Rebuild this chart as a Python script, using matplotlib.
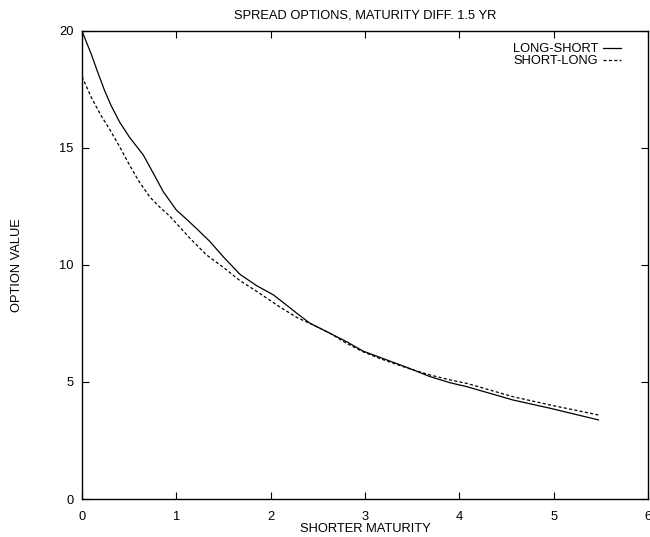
import matplotlib
matplotlib.use("Agg")
import matplotlib.pyplot as plt

plt.rcParams['font.family'] = ['Liberation Sans', 'DejaVu Sans']

# LONG-SHORT (solid)
ls_x = [0.0, 0.099, 0.17, 0.24, 0.31, 0.40, 0.505, 0.544, 0.65, 0.756, 0.862, 1.0,
        1.11, 1.216, 1.357, 1.498, 1.675, 1.85, 2.03, 2.10, 2.205, 2.276, 2.417,
        2.63, 2.806, 2.98, 3.16, 3.46, 3.69, 3.90, 4.08, 4.57, 4.96, 5.475]
ls_y = [20.0, 19.0, 18.2, 17.45, 16.8, 16.1, 15.45, 15.25, 14.7, 13.92, 13.13, 12.35,
        11.95, 11.55, 11.0, 10.35, 9.6, 9.12, 8.72, 8.5, 8.17, 7.94, 7.51,
        7.08, 6.72, 6.32, 6.05, 5.6, 5.23, 4.97, 4.80, 4.23, 3.88, 3.38]

# SHORT-LONG (dashed)
sl_x = [0.0, 0.1, 0.2, 0.3, 0.4, 0.5, 0.6, 0.72, 0.83, 0.933, 1.057,
        1.145, 1.32, 1.498, 1.675, 1.85, 2.0, 2.08, 2.276, 2.45, 2.63, 2.806, 2.98, 3.16,
        3.46, 3.69, 3.90, 4.08, 4.57, 4.96, 5.475]
sl_y = [18.05, 17.15, 16.4, 15.75, 15.05, 14.3, 13.6, 12.9, 12.45, 12.08, 11.53,
        11.14, 10.43, 9.9, 9.33, 8.88, 8.47, 8.25, 7.76, 7.44, 7.08, 6.65, 6.29, 6.0,
        5.58, 5.30, 5.09, 4.94, 4.37, 4.02, 3.59]

x_ticks = [0, 1, 2, 3, 4, 5, 6]
y_ticks = [0, 5, 10, 15, 20]

fig = plt.figure(figsize=(6.5, 5.37), dpi=100)
ax = fig.add_axes([82/650, 1-499/537, (648-82)/650, (499-31)/537])

ax.plot(ls_x, ls_y, color='black', lw=0.9, label='LONG-SHORT')
ax.plot(sl_x, sl_y, color='black', lw=0.9, dashes=(2.5, 1.8), label='SHORT-LONG')

ax.set_xlim(0, 6)
ax.set_ylim(0, 20)
ax.set_xticks(x_ticks)
ax.set_yticks(y_ticks)
ax.tick_params(direction='in', length=5, width=0.8, top=True, right=True,
               labelsize=9.3)
ax.tick_params(axis='x', pad=8.5)
ax.tick_params(axis='y', pad=6)
for s in ax.spines.values():
    s.set_linewidth(1.0)

ax.set_title('SPREAD OPTIONS, MATURITY DIFF. 1.5 YR', fontsize=9.3, pad=9)
ax.set_xlabel('SHORTER MATURITY', fontsize=9.3)
ax.xaxis.set_label_coords(0.5, -0.052)
ax.set_ylabel('OPTION VALUE', fontsize=9.3, va='center')
ax.yaxis.set_label_coords(-0.114, 0.5)

leg = ax.legend(loc='upper right', bbox_to_anchor=(0.962, 0.985), frameon=False,
                markerfirst=False, fontsize=9.3, handlelength=1.4, handletextpad=0.4,
                labelspacing=0.0, borderaxespad=0)
for t in leg.get_texts():
    t.set_ha('right')

fig.savefig('out.png', dpi=100)
